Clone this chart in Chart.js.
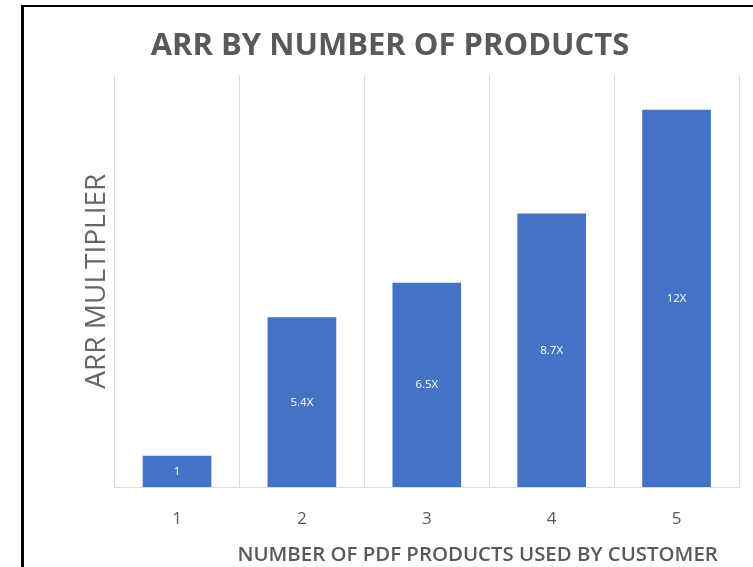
<!DOCTYPE html>
<html>
<head>
<meta charset="utf-8">
<script src="https://cdn.jsdelivr.net/npm/chart.js@4.4.1/dist/chart.umd.min.js"></script>
<style>
  html, body { margin: 0; padding: 0; background: #fff; }
  #wrap { position: relative; width: 753px; height: 567px; overflow: hidden; }
  #frame {
    position: absolute; left: 21px; top: 5px; width: 760px; height: 600px;
    border-left: 3px solid #000; border-top: 2px solid #000;
  }
  canvas { position: absolute; left: 0; top: 0; }
</style>
</head>
<body>
<div id="wrap">
  <div id="frame"></div>
  <canvas id="chart" width="753" height="567"></canvas>
</div>
<script>
// Data
const productCounts = ['1', '2', '3', '4', '5'];
const arrMultipliers = [1, 5.4, 6.5, 8.7, 12];
const barLabels = ['1', '5.4X', '6.5X', '8.7X', '12X'];

const textGray = '#595959';

// Draw the white value labels in the middle of each bar
const barLabelPlugin = {
  id: 'barLabels',
  afterDatasetsDraw(chart) {
    const ctx = chart.ctx;
    const meta = chart.getDatasetMeta(0);
    ctx.save();
    ctx.fillStyle = '#ffffff';
    ctx.font = '11.5px "Open Sans"';
    ctx.textAlign = 'center';
    ctx.textBaseline = 'middle';
    meta.data.forEach((bar, i) => {
      ctx.fillText(barLabels[i], bar.x, (bar.y + bar.base) / 2);
    });
    ctx.restore();
  }
};

const ctx = document.getElementById('chart').getContext('2d');
const chart = new Chart(ctx, {
  type: 'bar',
  data: {
    labels: productCounts,
    datasets: [{
      data: arrMultipliers,
      backgroundColor: '#4472C4',
      borderWidth: 0,
      barPercentage: 0.55,
      categoryPercentage: 1,
    }],
  },
  options: {
    responsive: false,
    animation: false,
    layout: { padding: { left: 41, right: 14, top: 28, bottom: 0 } },
    plugins: {
      legend: { display: false },
      tooltip: { enabled: false },
      title: {
        display: true,
        text: 'ARR BY NUMBER OF PRODUCTS',
        color: textGray,
        font: { family: '"Open Sans"', size: 31, weight: 'bold', lineHeight: 1.2 },
        padding: { top: 0, bottom: 10 },
      },
    },
    scales: {
      x: {
        grid: { color: '#d9d9d9', drawTicks: false, lineWidth: 1 },
        border: { display: true, color: '#d9d9d9' },
        ticks: {
          color: textGray,
          padding: 22,
          font: { family: '"Open Sans"', size: 17 },
        },
        title: {
          display: true,
          // trailing spaces push the title a little left of the plot's right edge, as in the source
          text: 'NUMBER OF PDF PRODUCTS USED BY CUSTOMER\u00A0\u00A0\u00A0\u00A0',
          align: 'end',
          color: textGray,
          font: { family: '"Open Sans"', size: 20.4, weight: '600', lineHeight: 1.2 },
          padding: { top: -9, bottom: 0 },
        },
      },
      y: {
        min: 0,
        max: 13.1,
        grid: { display: false, drawTicks: false },
        border: { display: false },
        ticks: { display: false },
        title: {
          display: true,
          text: 'ARR MULTIPLIER',
          color: '#666666',
          font: { family: '"Open Sans"', size: 28, weight: 'normal', lineHeight: 1.2 },
          padding: { top: 39, bottom: 1 },
        },
      },
    },
  },
  plugins: [barLabelPlugin],
});
</script>
</body>
</html>
